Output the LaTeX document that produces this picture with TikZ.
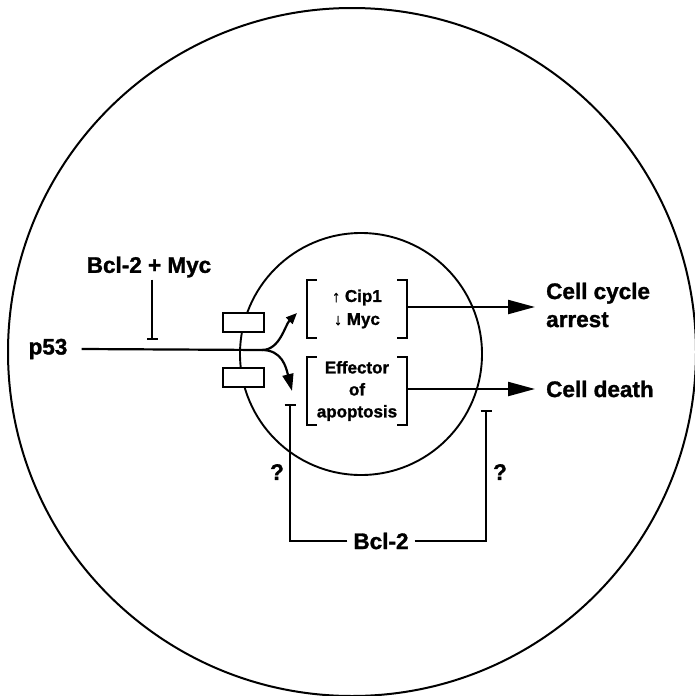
\documentclass[tikz,border=0pt]{standalone}
\usepackage{fontspec}
\setmainfont{Liberation Sans}[BoldFeatures={FakeBold=1.3}]
\usetikzlibrary{arrows.meta}
\begin{document}
\begin{tikzpicture}[x=1pt,y=-1pt,
  lbl/.style={font=\fontsize{22.5}{28}\selectfont\bfseries, inner sep=2pt, align=center},
  small/.style={font=\fontsize{17}{22}\selectfont\bfseries, inner sep=0pt, align=center},
  conn/.style={line width=2.2pt},
  bigarrow/.style={conn, -{Triangle[length=27pt,width=14pt]}},
  inh/.style={conn, -{Bar[width=11pt,line width=2.2pt]}},
  recbox/.style={draw, line width=2pt, fill=white, minimum width=41pt, minimum height=19pt, inner sep=0pt},
  brk/.style={line width=2pt}
]
\useasboundingbox (0,0) rectangle (695,696);
% cell and nucleus
\draw[line width=2pt] (352,352) circle [radius=344pt];
\draw[line width=1.9pt] (361,354) circle [radius=121pt];
% receptor boxes
\node[recbox] (r1) at (243.5,322.5) {};
\node[recbox] (r2) at (243.5,377) {};
% labels
\node[lbl] (p53) at (48,349) {p53};
\node[lbl] (bclmyc) at (149,267) {Bcl-2 + Myc};
\node[lbl, anchor=west, align=left] (arrest) at (544,305) {Cell cycle\\arrest};
\node[lbl, anchor=west] (death) at (544,389) {Cell death};
\node[lbl, inner sep=6pt] (bcl2) at (381,541) {Bcl-2};
\node[lbl] (q1) at (277,472) {?};
\node[lbl] (q2) at (500,472) {?};
% bracket contents
\node[small, minimum width=100pt, minimum height=58pt] (cip) at (357,309)
  {{\fontsize{16}{16}\selectfont↑} Cip1\\[1pt]{\fontsize{16}{16}\selectfont↓} Myc};
\node[small, minimum width=100pt, minimum height=68pt] (eff) at (357,391)
  {Effector\\of\\apoptosis};
\foreach \b in {cip,eff}{
  \draw[brk] ([xshift=10pt]\b.north west) -- (\b.north west) -- (\b.south west) -- ([xshift=10pt]\b.south west);
  \draw[brk] ([xshift=-10pt]\b.north east) -- (\b.north east) -- (\b.south east) -- ([xshift=-10pt]\b.south east);
}
% coordinates
\coordinate (split) at (262,350);
\coordinate (upTip) at (297,313);
\coordinate (downTip) at (292,391);
\coordinate (tipx) at (535,0);
\coordinate (bmT) at (152,340);
\coordinate (tl) at (290,404);
\coordinate (tr) at (486,410);
% p53 pathway
\path (p53.east) ++(12pt,0) coordinate (p53s);
\draw[conn] (p53s) -- (split);
\draw[conn, -{Triangle[length=11pt,width=9pt]}] (split) .. controls +(18,0) and +(-12,12) .. (upTip);
\draw[conn, -{Triangle[length=17pt,width=11pt]}] (split) .. controls +(20,0) and +(-6,-24) .. (downTip);
\draw[inh] (bclmyc.south -| bmT) -- (bmT);
% outputs
\draw[bigarrow] (cip.east |- 0,307) -- (tipx |- 0,307);
\draw[bigarrow] (eff.east |- death) -- (tipx |- death);
% Bcl-2 inhibition
\draw[inh] (bcl2.west) -| (tl);
\draw[inh] (bcl2.east) -| (tr);
\end{tikzpicture}
\end{document}
